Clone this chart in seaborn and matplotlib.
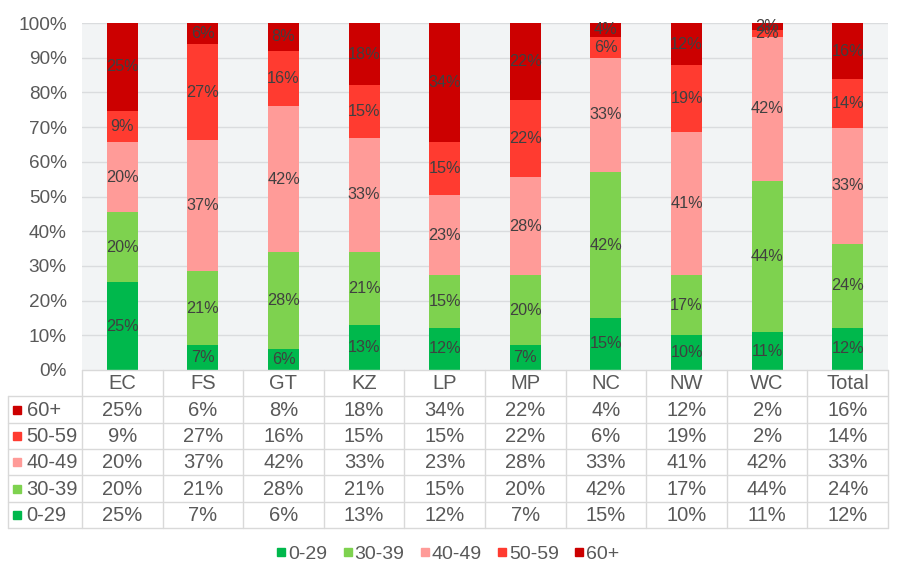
import numpy as np
import pandas as pd
import matplotlib.pyplot as plt
import seaborn as sns
from matplotlib.lines import Line2D

provinces = ["EC", "FS", "GT", "KZ", "LP", "MP", "NC", "NW", "WC", "Total"]
groups = ["0-29", "30-39", "40-49", "50-59", "60+"]
age_0_29 = [25, 7, 6, 13, 12, 7, 15, 10, 11, 12]
age_30_39 = [20, 21, 28, 21, 15, 20, 42, 17, 44, 24]
age_40_49 = [20, 37, 42, 33, 23, 28, 33, 41, 42, 33]
age_50_59 = [9, 27, 16, 15, 15, 22, 6, 19, 2, 14]
age_60_plus = [25, 6, 8, 18, 34, 22, 4, 12, 2, 16]

colors = {"0-29": "#00B84C", "30-39": "#7ED24F", "40-49": "#FF9B98",
          "50-59": "#FF3B30", "60+": "#CC0000"}
text_col = "#595959"
grid_col = "#DADCDE"

df = pd.DataFrame({"0-29": age_0_29, "30-39": age_30_39, "40-49": age_40_49,
                   "50-59": age_50_59, "60+": age_60_plus}, index=provinces)
# 100% stacked: normalise each column to its total
share = df.div(df.sum(axis=1), axis=0) * 100
cum = share.cumsum(axis=1)

sns.set_style("white")
plt.rcParams["font.family"] = ["Liberation Sans", "DejaVu Sans"]

fig = plt.figure(figsize=(9, 5.77), dpi=100)
ax = fig.add_axes([82 / 900, 1 - 370 / 577, 806 / 900, 347 / 577])
ax.set_facecolor("#F2F4F5")

# draw tallest cumulative first, smaller ones on top
for g in reversed(groups):
    sns.barplot(x=provinces, y=cum[g].values, color=colors[g], width=0.385,
                saturation=1, ax=ax, zorder=3, linewidth=0)

for i, p in enumerate(provinces):
    for g in groups:
        mid = cum.loc[p, g] - share.loc[p, g] / 2
        ax.text(i, mid, f"{df.loc[p, g]}%", ha="center", va="center",
                fontsize=11.7, color="#404040", zorder=5)

ax.set_xlim(-0.5, 9.5)
ax.set_ylim(0, 100)
ax.set_yticks(np.arange(0, 101, 10))
ax.set_yticklabels([f"{v}%" for v in range(0, 101, 10)], fontsize=13.7, color=text_col)
ax.tick_params(axis="y", length=0, pad=11)
ax.set_xticks([])
ax.set_xlabel("")
for y in range(10, 101, 10):
    ax.axhline(y, color=grid_col, lw=1, zorder=1)
for s in ax.spines.values():
    s.set_visible(False)

# data table below the plot
tax = fig.add_axes([8 / 900, 1 - 528 / 577, 880 / 900, 158 / 577])
left = -0.5 - 74 / 80.6
tax.set_xlim(left, 9.5)
tax.set_ylim(6, 0)
tax.axis("off")
lc = "#D9D9D9"
tax.plot([-0.5, 9.5], [0, 0], color=lc, lw=1, clip_on=False)
for r in range(1, 7):
    tax.plot([left, 9.5], [r, r], color=lc, lw=1, clip_on=False)
tax.plot([left, left], [1, 6], color=lc, lw=1, clip_on=False)
for k in range(11):
    tax.plot([k - 0.5, k - 0.5], [0, 6], color=lc, lw=1, clip_on=False)

fs_tab = 14.5
for i, p in enumerate(provinces):
    tax.text(i, 0.52, p, ha="center", va="center", fontsize=fs_tab, color=text_col)

for r, g in enumerate(reversed(groups), start=1):
    tax.plot(left + 0.11, r + 0.5, marker="s", ms=6, color=colors[g], clip_on=False)
    tax.text(left + 0.23, r + 0.52, g, ha="left", va="center", fontsize=fs_tab, color=text_col)
    for i, p in enumerate(provinces):
        tax.text(i, r + 0.52, f"{df.loc[p, g]}%", ha="center", va="center",
                 fontsize=fs_tab, color=text_col)

handles = [Line2D([], [], marker="s", ms=6, ls="", color=colors[g]) for g in groups]
leg = fig.legend(handles, groups, loc="center", bbox_to_anchor=(447 / 900, 1 - 554 / 577),
                 ncol=5, frameon=False, fontsize=14, handletextpad=0.0,
                 columnspacing=0.7, handlelength=0.7)
for t in leg.get_texts():
    t.set_color(text_col)

fig.savefig("out.png", dpi=100)
